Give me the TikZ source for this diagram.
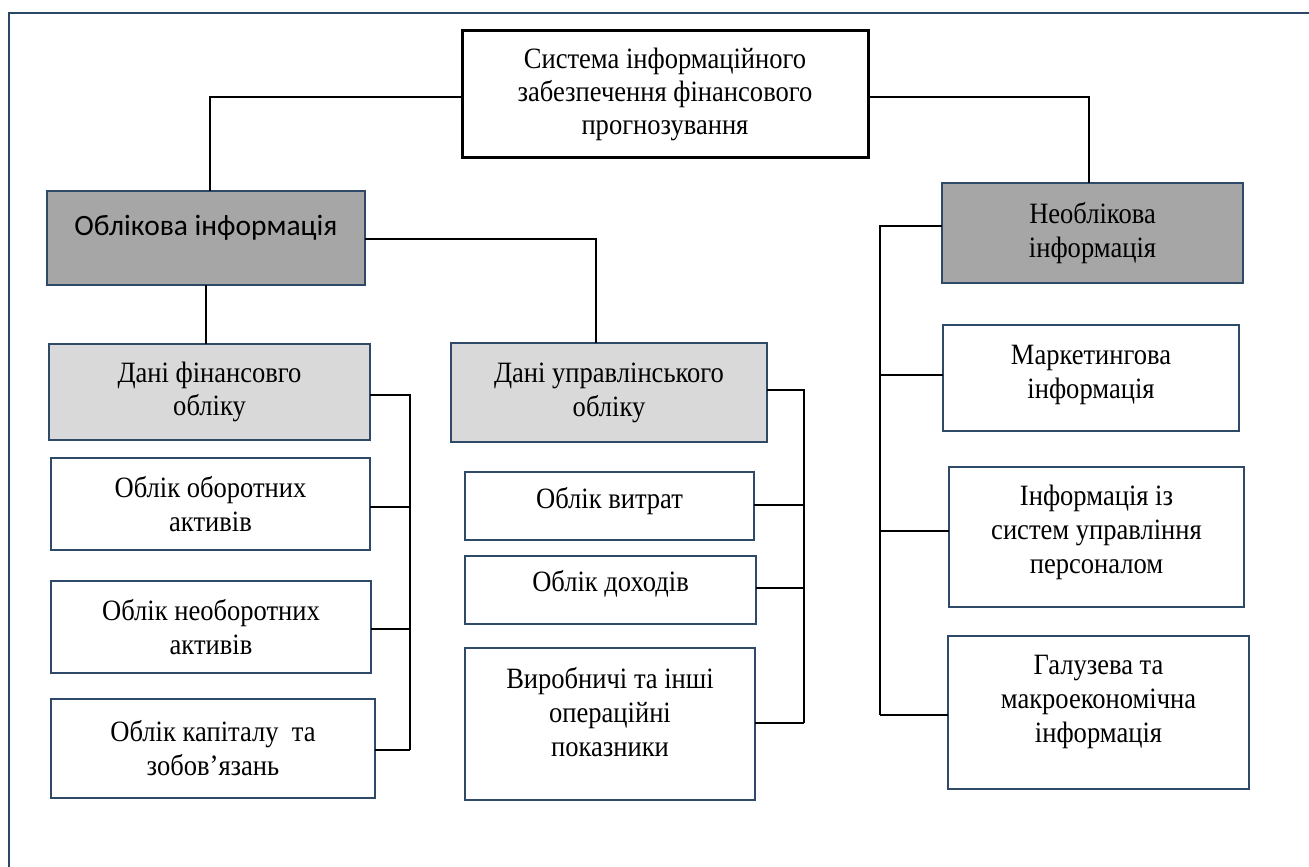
\documentclass[tikz,border=0pt]{standalone}
\usepackage{fontspec}
\setmainfont{Liberation Serif}
\newfontfamily\tallserif[FakeStretch=0.9]{Liberation Serif}
\newfontfamily\calib{Carlito}
\definecolor{frameblue}{HTML}{2B4765}
\definecolor{bblue}{HTML}{2E4A68}
\definecolor{dgray}{HTML}{A6A6A6}
\definecolor{lgray}{HTML}{D9D9D9}
\begin{document}
\begin{tikzpicture}[x=1pt,y=-1pt,
  bx/.style={draw=bblue, line width=2.6pt, rectangle, inner sep=0pt, outer sep=0pt, align=center, font=\tallserif\fontsize{29.5}{34}\selectfont},
  dk/.style={bx, fill=dgray},
  lt/.style={bx, fill=lgray},
  wt/.style={bx, fill=white},
  tx/.style={align=center, inner sep=0pt, font=\tallserif\fontsize{29.5}{34}\selectfont},
  con/.style={draw=black, line width=1.1pt},
]
\useasboundingbox (0,0) rectangle (1309,867);
\fill[white] (0,0) rectangle (1309,867);
\draw[line width=2pt, frameblue] (9,867) -- (9,13) -- (1309,13);

% top
\node[bx, draw=black, line width=3pt, fill=white, minimum width=406pt, minimum height=126pt, font=\tallserif\fontsize{29.5}{33}\selectfont] (T) at (665,94) {Система інформаційного\\забезпечення фінансового\\прогнозування};

% level 2
\node[dk, minimum width=318pt, minimum height=94pt] (O) at (206,238) {};
\node[tx, font=\calib\fontsize{29.5}{34}\selectfont] (Ot) at ([yshift=10pt]O.center) {Облікова інформація};
\node[dk, minimum width=301pt, minimum height=100pt] (N) at (1092.5,233) {Необлікова\\інформація};

% level 3
\node[lt, minimum width=321pt, minimum height=96pt, font=\tallserif\fontsize{29.5}{33}\selectfont] (F) at (209.5,392) {Дані фінансовго\\обліку};
\node[lt, minimum width=316pt, minimum height=99pt, font=\tallserif\fontsize{29.5}{34}\selectfont] (U) at (609,392.5) {Дані управлінського\\обліку};

% left column
\node[wt, minimum width=319pt, minimum height=92pt] (A1) at (210.5,504) {Облік оборотних\\активів};
\node[wt, minimum width=320pt, minimum height=92pt] (A2) at (211,627) {Облік необоротних\\активів};
\node[wt, minimum width=324pt, minimum height=99pt] (A3) at (213,748.5) {Облік капіталу\ \ та\\зобов’язань};

% middle column
\node[wt, minimum width=289pt, minimum height=68pt] (B1) at (609.5,506) {};
\node[tx] (B1t) at ([yshift=5pt]B1.center) {Облік витрат};
\node[wt, minimum width=291pt, minimum height=68pt] (B2) at (610.5,590) {};
\node[tx] (B2t) at ([yshift=6pt]B2.center) {Облік доходів};
\node[wt, minimum width=290pt, minimum height=152pt] (B3) at (610,724) {};
\node[tx] (B3t) at ([yshift=12pt]B3.center) {Виробничі та інші\\операційні\\показники};

% right column
\node[wt, minimum width=296pt, minimum height=106pt] (M) at (1091,378) {};
\node[tx] (Mt) at ([yshift=3pt]M.center) {Маркетингова\\інформація};
\node[wt, minimum width=295pt, minimum height=140pt] (I) at (1096.5,537) {};
\node[tx] (It) at ([yshift=5pt]I.center) {Інформація із\\систем управління\\персоналом};
\node[wt, minimum width=301pt, minimum height=153pt] (G) at (1098.5,712.5) {};
\node[tx] (Gt) at ([yshift=11pt]G.center) {Галузева та\\макроекономічна\\інформація};

% connectors top
\coordinate (t1) at (210,97);
\coordinate (t2) at (1089,97);
\draw[con] (T.west |- t1) -- (t1) -- (t1 |- O.north);
\draw[con] (T.east |- t2) -- (t2) -- (t2 |- N.north);

% from O
\coordinate (o1) at (596,239);
\draw[con] (O.east |- o1) -- (o1) -- (o1 |- U.north);
\draw[con] (O.south) -- (O.south |- F.north);

% left bracket
\coordinate (lb) at (410,395);
\coordinate (lb1) at (410,507);
\coordinate (lb2) at (410,629);
\coordinate (lb3) at (410,750);
\draw[con] (F.east |- lb) -- (lb) -- (lb3);
\draw[con] (A1.east |- lb1) -- (lb1);
\draw[con] (A2.east |- lb2) -- (lb2);
\draw[con] (A3.east |- lb3) -- (lb3);

% middle bracket
\coordinate (mb) at (804,390);
\coordinate (mb1) at (804,505);
\coordinate (mb2) at (804,588);
\coordinate (mb3) at (804,723);
\draw[con] (U.east |- mb) -- (mb) -- (mb3);
\draw[con] (B1.east |- mb1) -- (mb1);
\draw[con] (B2.east |- mb2) -- (mb2);
\draw[con] (B3.east |- mb3) -- (mb3);

% right bracket
\coordinate (rb) at (880,226);
\coordinate (rb1) at (880,375);
\coordinate (rb2) at (880,531);
\coordinate (rb3) at (880,715);
\draw[con] (N.west |- rb) -- (rb) -- (rb3);
\draw[con] (rb1) -- (M.west |- rb1);
\draw[con] (rb2) -- (I.west |- rb2);
\draw[con] (rb3) -- (G.west |- rb3);
\end{tikzpicture}
\end{document}
